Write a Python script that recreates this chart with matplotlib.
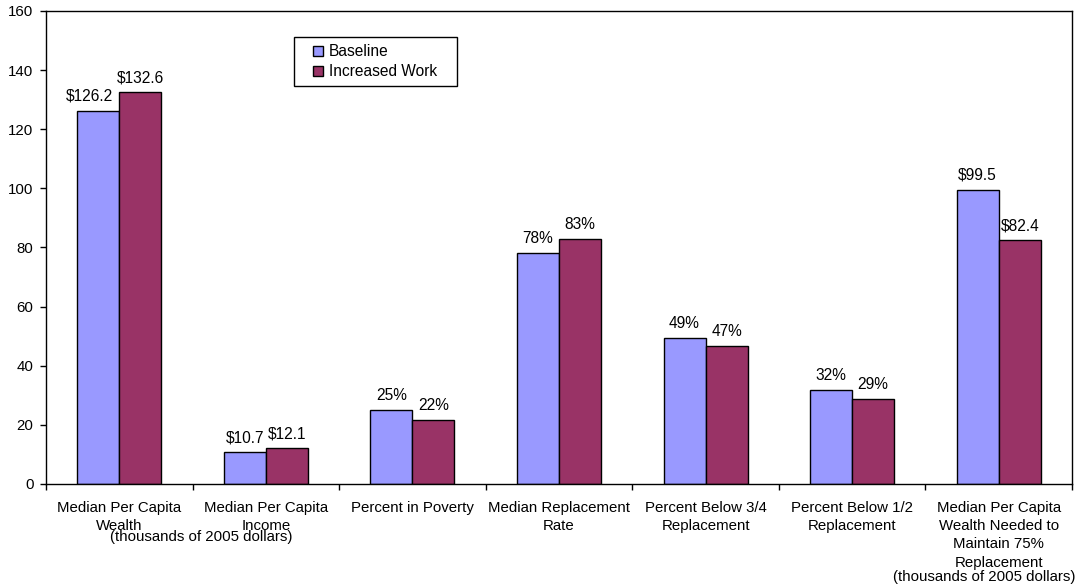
import matplotlib
matplotlib.use('Agg')
import matplotlib.pyplot as plt
from matplotlib.lines import Line2D
import numpy as np

categories = ['Median Per Capita\nWealth', 'Median Per Capita\nIncome', 'Percent in Poverty',
              'Median Replacement\nRate', 'Percent Below 3/4\nReplacement',
              'Percent Below 1/2\nReplacement',
              'Median Per Capita\nWealth Needed to\nMaintain 75%\nReplacement']
baseline = [126.2, 10.7, 25.0, 78.0, 49.3, 31.8, 99.5]
increased = [132.6, 12.1, 21.5, 82.9, 46.7, 28.9, 82.4]
baseline_labels = ['$126.2', '$10.7', '25%', '78%', '49%', '32%', '$99.5']
increased_labels = ['$132.6', '$12.1', '22%', '83%', '47%', '29%', '$82.4']
series_names = ['Baseline', 'Increased Work']
colors = ['#9999FF', '#993366']
y_ticks = [0, 20, 40, 60, 80, 100, 120, 140, 160]

plt.rcParams['font.family'] = ['Liberation Sans', 'DejaVu Sans']
plt.rcParams['font.size'] = 10.8

fig = plt.figure(figsize=(10.76, 5.85), dpi=100)
ax = fig.add_axes([0.04275, 0.17265, 0.95353, 0.80855])

x = np.arange(len(categories))
w = 0.287
b1 = ax.bar(x - w / 2, baseline, w, color=colors[0], edgecolor='black', linewidth=1.0)
b2 = ax.bar(x + w / 2, increased, w, color=colors[1], edgecolor='black', linewidth=1.0)

for si, (bars, labels) in enumerate([(b1, baseline_labels), (b2, increased_labels)]):
    for ci, (r, lab) in enumerate(zip(bars, labels)):
        # first baseline label is nudged left so it clears its neighbour
        dx = -6.5 if (si, ci) == (0, 0) else 0
        ax.annotate(lab, (r.get_x() + r.get_width() / 2, r.get_height()),
                    textcoords='offset points', xytext=(dx, 5), ha='center', va='bottom',
                    fontsize=11.2)

ax.set_xlim(-0.5, len(categories) - 0.5)
ax.set_ylim(0, 160)
ax.set_yticks(y_ticks)
ax.tick_params(axis='y', direction='out', length=4, width=1, pad=5, labelsize=10.8)

ax.set_xticks(np.arange(len(categories) + 1) - 0.5)
ax.set_xticklabels([])
ax.tick_params(axis='x', which='major', direction='out', length=4, width=1)
ax.set_xticks(x, minor=True)
ax.set_xticklabels(categories, minor=True, linespacing=1.4)
ax.tick_params(axis='x', which='minor', length=0, pad=12, labelsize=10.8)

for s in ax.spines.values():
    s.set_linewidth(1.0)
    s.set_color('black')

note = '(thousands of 2005 dollars)'
ax.text(0.56, -0.113, note, transform=ax.get_xaxis_transform(), ha='center', va='center',
        fontsize=10.8)
ax.text(5.9, -0.197, note, transform=ax.get_xaxis_transform(), ha='center', va='center',
        fontsize=10.8)

handles = [Line2D([], [], marker='s', linestyle='', markersize=7, markerfacecolor=c,
                  markeredgecolor='black', markeredgewidth=1.0) for c in colors]
leg = ax.legend(handles, series_names, loc='upper left',
                bbox_to_anchor=(0.2417, 0.845, 0.1589, 0.1), mode='expand',
                borderaxespad=0, fancybox=False, edgecolor='black', framealpha=1,
                fontsize=11.2, handlelength=2.2, handletextpad=-0.4,
                borderpad=0.45, labelspacing=0.35)
leg.get_frame().set_linewidth(1.0)

fig.savefig('out.png', dpi=100)
